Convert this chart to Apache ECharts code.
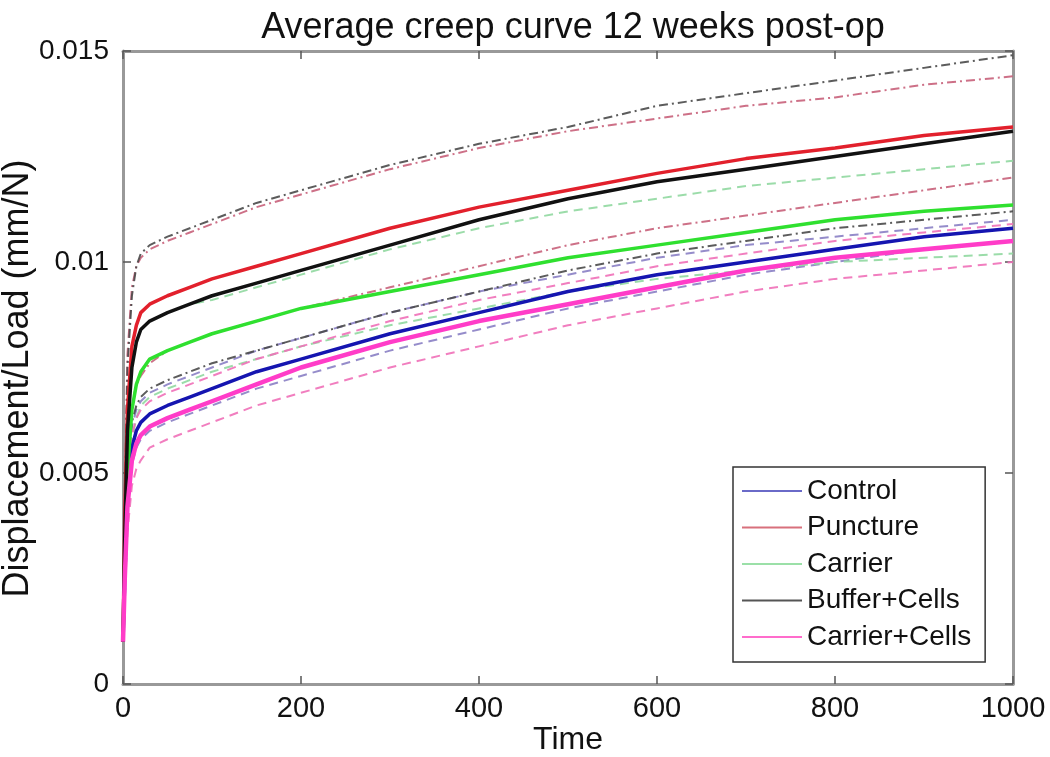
<!DOCTYPE html>
<html lang="en">
<head>
    <meta charset="UTF-8">
    <title>Average creep curve 12 weeks post-op</title>
    <script src="https://cdn.jsdelivr.net/npm/echarts@6.0.0/dist/echarts.min.js"></script>
    <style>
        html, body {
            margin: 0;
            padding: 0;
            background: #fff;
        }
        #chart {
            width: 1050px;
            height: 757px;
        }
    </style>
</head>
<body>
<div id="chart"></div>
<script>
    // sample times
    const times = [0, 2, 5, 10, 15, 20, 30, 50, 75, 100, 150, 200, 300, 400, 500, 600, 700, 800, 900, 1000]

    // mean curves (mm/N)
    const control = [0.001, 0.0025, 0.0045, 0.0056, 0.0060, 0.0062, 0.0064, 0.0066, 0.0068, 0.0070, 0.0074, 0.0077, 0.0083, 0.0088, 0.0093, 0.0097, 0.0100, 0.0103, 0.0106, 0.0108]
    const puncture = [0.001, 0.0040, 0.0065, 0.0080, 0.0085, 0.0088, 0.0090, 0.0092, 0.0094, 0.0096, 0.0099, 0.0102, 0.0108, 0.0113, 0.0117, 0.0121, 0.01245, 0.0127, 0.0130, 0.0132]
    const carrier = [0.001, 0.0030, 0.0050, 0.0065, 0.0071, 0.0074, 0.0077, 0.0079, 0.0081, 0.0083, 0.0086, 0.0089, 0.0093, 0.0097, 0.0101, 0.0104, 0.0107, 0.0110, 0.0112, 0.01135]
    const bufferCells = [0.001, 0.0035, 0.0060, 0.0075, 0.0081, 0.0084, 0.0086, 0.0088, 0.0090, 0.0092, 0.0095, 0.0098, 0.0104, 0.0110, 0.0115, 0.0119, 0.0122, 0.0125, 0.0128, 0.0131]
    const carrierCells = [0.001, 0.0025, 0.0042, 0.0053, 0.0057, 0.0059, 0.0061, 0.0063, 0.0065, 0.0067, 0.0071, 0.0075, 0.0081, 0.0086, 0.0090, 0.0094, 0.0098, 0.0101, 0.0103, 0.0105]

    // upper / lower bounds
    const controlUp = [0.001, 0.0028, 0.0050, 0.0061, 0.0065, 0.0067, 0.0069, 0.0071, 0.0073, 0.0075, 0.0079, 0.0082, 0.0088, 0.0093, 0.0097, 0.0101, 0.0104, 0.0106, 0.0108, 0.0110]
    const controlLow = [0.001, 0.0023, 0.0041, 0.0052, 0.0056, 0.0058, 0.0060, 0.0062, 0.0064, 0.0066, 0.0070, 0.0073, 0.0079, 0.0084, 0.0089, 0.0093, 0.0097, 0.0100, 0.0103, 0.0105]
    const punctureUp = [0.001, 0.0045, 0.0078, 0.0094, 0.0099, 0.0101, 0.0103, 0.0105, 0.0107, 0.0109, 0.0113, 0.0116, 0.0122, 0.0127, 0.0131, 0.0134, 0.0137, 0.0139, 0.0142, 0.0144]
    const punctureLow = [0.001, 0.0035, 0.0055, 0.0066, 0.0071, 0.0073, 0.0076, 0.0079, 0.0081, 0.0083, 0.0086, 0.0089, 0.0094, 0.0099, 0.0104, 0.0108, 0.0111, 0.0114, 0.0117, 0.0120]
    const carrierUp = [0.001, 0.0035, 0.0060, 0.0076, 0.0081, 0.0084, 0.0086, 0.0088, 0.0090, 0.0091, 0.0094, 0.0097, 0.0103, 0.0108, 0.0112, 0.0115, 0.0118, 0.0120, 0.0122, 0.0124]
    const carrierLow = [0.001, 0.0028, 0.0045, 0.0058, 0.0063, 0.0066, 0.0068, 0.0070, 0.0072, 0.0074, 0.0077, 0.0080, 0.0085, 0.0089, 0.0093, 0.0096, 0.0098, 0.0100, 0.0101, 0.0102]
    const bufferCellsUp = [0.001, 0.0040, 0.0075, 0.0092, 0.0099, 0.0102, 0.0104, 0.0106, 0.0108, 0.0110, 0.0114, 0.0117, 0.0123, 0.0128, 0.0132, 0.0137, 0.0140, 0.0143, 0.0146, 0.0149]
    const bufferCellsLow = [0.001, 0.0030, 0.0050, 0.0062, 0.0066, 0.0068, 0.0070, 0.0072, 0.0074, 0.0076, 0.0079, 0.0082, 0.0088, 0.0093, 0.0098, 0.0102, 0.0105, 0.0108, 0.0110, 0.0112]
    const carrierCellsUp = [0.001, 0.0028, 0.0048, 0.0059, 0.0063, 0.0065, 0.0067, 0.0069, 0.0071, 0.0073, 0.0077, 0.0080, 0.0086, 0.0091, 0.0095, 0.0099, 0.0102, 0.0105, 0.0107, 0.0109]
    const carrierCellsLow = [0.001, 0.0020, 0.0036, 0.0047, 0.0051, 0.0053, 0.0056, 0.0058, 0.0060, 0.0062, 0.0066, 0.0069, 0.0075, 0.0080, 0.0085, 0.0089, 0.0093, 0.0096, 0.0098, 0.0100]

    const groupNames = ['Control', 'Puncture', 'Carrier', 'Buffer+Cells', 'Carrier+Cells']
    const yTicks = [0, 0.005, 0.01, 0.015]
    const yTickLabels = ['0', '0.005', '0.01', '0.015']

    const font = '"Liberation Sans", Arial, sans-serif'
    const dashDot = [9, 4, 2, 4]
    const dashed = [9, 6]

    const toPoints = arr => arr.map((v, i) => [times[i], v])

    const groups = [
        { name: 'Control', mean: control, up: controlUp, low: controlLow, color: '#1515b0', bandColor: '#8a7fc4', dash: dashed, width: 3.5 },
        { name: 'Puncture', mean: puncture, up: punctureUp, low: punctureLow, color: '#e2202c', bandColor: '#c8607a', dash: dashDot, width: 3.5 },
        { name: 'Carrier', mean: carrier, up: carrierUp, low: carrierLow, color: '#2fe02f', bandColor: '#90d8a0', dash: dashed, width: 3.5 },
        { name: 'Buffer+Cells', mean: bufferCells, up: bufferCellsUp, low: bufferCellsLow, color: '#111111', bandColor: '#4a4a4a', dash: dashDot, width: 3.5 },
        { name: 'Carrier+Cells', mean: carrierCells, up: carrierCellsUp, low: carrierCellsLow, color: '#ff3cc8', bandColor: '#f070b8', dash: dashed, width: 4.5 }
    ]

    // legend samples are drawn lighter than the plotted means
    const legendColors = ['#6a6ac8', '#d8707c', '#9be0a8', '#555555', '#ff6ccc']

    const series = []
    groups.forEach(g => {
        [['upper', g.up], ['lower', g.low]].forEach(([tag, arr]) => {
            series.push({
                name: g.name + ' ' + tag,
                type: 'line',
                data: toPoints(arr),
                symbol: 'none',
                silent: true,
                z: 1,
                lineStyle: { color: g.bandColor, width: 2, type: g.dash, opacity: 0.9 }
            })
        })
    })
    groups.forEach(g => {
        series.push({
            name: g.name,
            type: 'line',
            data: toPoints(g.mean),
            symbol: 'none',
            z: 3,
            itemStyle: { color: g.color },
            lineStyle: { color: g.color, width: g.width }
        })
    })

    const frameLine = { show: true, onZero: false, lineStyle: { color: '#999', width: 3 } }
    const innerTick = { show: true, inside: true, length: 8, lineStyle: { color: '#555', width: 1.5 } }

    const option = {
        backgroundColor: '#fff',
        animation: false,
        title: {
            text: 'Average creep curve 12 weeks post-op',
            left: 568,
            top: 5,
            textAlign: 'center',
            textStyle: { fontFamily: font, fontSize: 36, fontWeight: 'normal', color: '#111' }
        },
        grid: { left: 123, right: 37, top: 51, bottom: 73, outerBoundsMode: 'none' },
        legend: {
            data: groupNames.map((n, i) => ({ name: n, itemStyle: { color: legendColors[i] } })),
            orient: 'vertical',
            left: 733,
            top: 467,
            padding: [10, 14, 11, 9],
            itemWidth: 60,
            itemHeight: 28,
            itemGap: 8.5,
            icon: 'path://M0,0H60V2.2H0Z',
            borderColor: '#333',
            borderWidth: 1.5,
            backgroundColor: '#fff',
            textStyle: { fontFamily: font, fontSize: 28, color: '#111' }
        },
        xAxis: [
            {
                type: 'value',
                min: 0,
                max: 1000,
                interval: 200,
                name: 'Time',
                nameLocation: 'middle',
                nameGap: 40,
                nameMoveOverlap: false,
                nameTextStyle: { fontFamily: font, fontSize: 32, color: '#111' },
                axisLine: frameLine,
                axisTick: innerTick,
                axisLabel: { fontFamily: font, fontSize: 29, color: '#111', margin: 10, formatter: v => String(v) },
                splitLine: { show: false }
            },
            {
                type: 'value',
                position: 'top',
                min: 0,
                max: 1000,
                interval: 200,
                axisLine: frameLine,
                axisTick: innerTick,
                axisLabel: { show: false },
                splitLine: { show: false }
            }
        ],
        yAxis: [
            {
                type: 'value',
                min: 0,
                max: 0.015,
                interval: 0.005,
                name: 'Displacement/Load (mm/N)',
                nameLocation: 'middle',
                nameGap: 87,
                nameMoveOverlap: false,
                nameTextStyle: { fontFamily: font, fontSize: 36, color: '#111', padding: [0, 22, 0, 0] },
                axisLine: frameLine,
                axisTick: innerTick,
                axisLabel: {
                    fontFamily: font,
                    fontSize: 28,
                    color: '#111',
                    margin: 14,
                    formatter: v => {
                        const i = yTicks.findIndex(t => Math.abs(t - v) < 1e-9)
                        return i >= 0 ? yTickLabels[i] : ''
                    }
                },
                splitLine: { show: false }
            },
            {
                type: 'value',
                position: 'right',
                min: 0,
                max: 0.015,
                interval: 0.005,
                axisLine: frameLine,
                axisTick: innerTick,
                axisLabel: { show: false },
                splitLine: { show: false }
            }
        ],
        series: series
    }

    const myChart = echarts.init(document.getElementById('chart'))
    myChart.setOption(option)
</script>
</body>
</html>
